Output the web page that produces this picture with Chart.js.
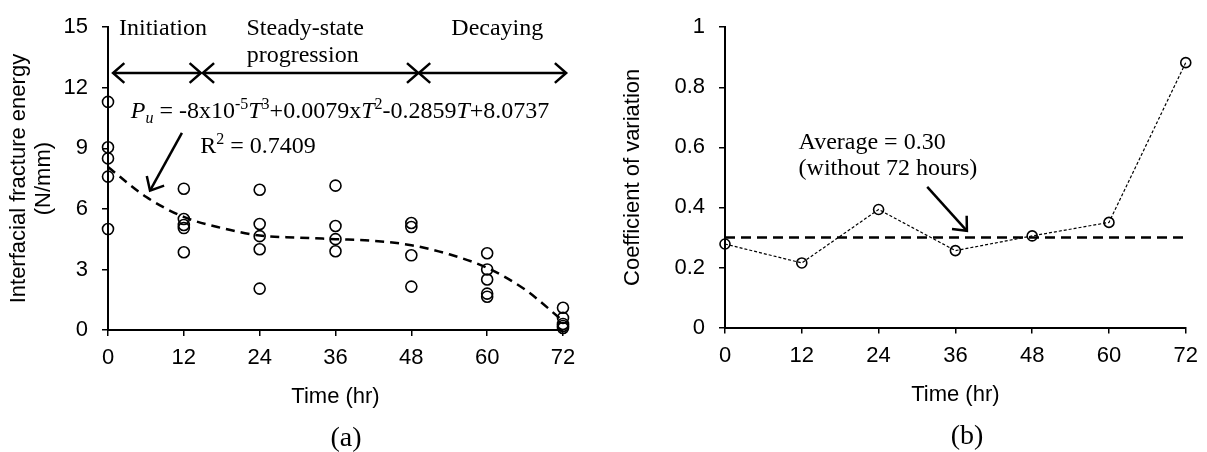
<!DOCTYPE html>
<html>
<head>
<meta charset="utf-8">
<script src="https://cdn.jsdelivr.net/npm/chart.js@4.4.1/dist/chart.umd.min.js"></script>
<style>
html, body { margin: 0; padding: 0; background: #fff; }
#wrap { position: relative; width: 1207px; height: 452px; }
#leftChart { position: absolute; left: 0; top: 0; }
#rightChart { position: absolute; left: 600px; top: 0; }
</style>
</head>
<body>
<div id="wrap">
  <canvas id="leftChart" width="600" height="452"></canvas>
  <canvas id="rightChart" width="607" height="452"></canvas>
</div>
<script>
// time axis (hours)
const hours = [0, 12, 24, 36, 48, 60, 72];
const hourTicks = [0, 12, 24, 36, 48, 60, 72];

// (a) interfacial fracture energy, N/mm, per specimen
const energy0h = [11.3, 9.05, 8.5, 7.6, 5.0];
const energy12h = [7.0, 5.5, 5.2, 5.05, 3.85];
const energy24h = [6.95, 5.25, 4.65, 4.0, 2.05];
const energy36h = [7.15, 5.15, 4.5, 3.9];
const energy48h = [5.3, 5.1, 3.7, 2.15];
const energy60h = [3.8, 3.0, 2.5, 1.8, 1.65];
const energy72h = [1.1, 0.6, 0.3, 0.2, 0.1];

// (a) cubic trend line
const trendHours = [0, 6, 12, 18, 24, 30, 36, 42, 48, 54, 60, 66, 72];
const trendEnergy = [8.07, 6.6, 5.6, 5.05, 4.68, 4.58, 4.5, 4.42, 4.2, 3.75, 3.08, 2.0, 0.45];

// (b) coefficient of variation
const cov = [0.278, 0.215, 0.393, 0.256, 0.305, 0.35, 0.882];
const avgHours = [0, 72];
const avgCov = 0.30;

const SANS = '"Liberation Sans", Arial, sans-serif';
const SERIF = '"Liberation Serif", "Times New Roman", serif';

Chart.defaults.font.family = SANS;
Chart.defaults.font.size = 22;
Chart.defaults.color = '#000';

const energyByHour = [energy0h, energy12h, energy24h, energy36h, energy48h, energy60h, energy72h];
const energyPoints = hours.flatMap((h, i) => energyByHour[i].map(v => ({ x: h, y: v })));
const trendPoints = trendHours.map((h, i) => ({ x: h, y: trendEnergy[i] }));
const covPoints = hours.map((h, i) => ({ x: h, y: cov[i] }));
const avgPoints = avgHours.map(h => ({ x: h, y: avgCov }));

function arrowHead(ctx, fx, fy, tx, ty, len, ang) {
  const a = Math.atan2(ty - fy, tx - fx);
  ctx.beginPath();
  ctx.moveTo(tx - len * Math.cos(a - ang), ty - len * Math.sin(a - ang));
  ctx.lineTo(tx, ty);
  ctx.lineTo(tx - len * Math.cos(a + ang), ty - len * Math.sin(a + ang));
  ctx.stroke();
}

function arrow(ctx, p1, p2, both) {
  ctx.beginPath();
  ctx.moveTo(p1[0], p1[1]);
  ctx.lineTo(p2[0], p2[1]);
  ctx.stroke();
  arrowHead(ctx, p1[0], p1[1], p2[0], p2[1], 15, 0.72);
  if (both) arrowHead(ctx, p2[0], p2[1], p1[0], p1[1], 15, 0.72);
}

function richText(ctx, parts, x, y, size) {
  let cx = x;
  parts.forEach(p => {
    const s = (p.sup || p.sub) ? Math.round(size * 0.65) : size;
    ctx.font = (p.it ? 'italic ' : '') + s + 'px ' + SERIF;
    const dy = p.sup ? -size * 0.38 : (p.sub ? size * 0.2 : 0);
    ctx.fillText(p.t, cx, y + dy);
    cx += ctx.measureText(p.t).width;
  });
}

function toPx(chart, x, y) {
  return [chart.scales.x.getPixelForValue(x), chart.scales.y.getPixelForValue(y)];
}

const leftNotes = {
  id: 'leftNotes',
  afterDraw(chart) {
    const ctx = chart.ctx;
    ctx.save();
    ctx.fillStyle = '#000';
    ctx.strokeStyle = '#000';
    ctx.lineWidth = 2.5;
    ctx.lineCap = 'butt';
    ctx.setLineDash([]);

    // phase labels
    ctx.font = '24px ' + SERIF;
    ctx.textAlign = 'center';
    ctx.textBaseline = 'alphabetic';
    const lbl = (t, x, y) => { const p = toPx(chart, x, y); ctx.fillText(t, p[0], p[1]); };
    lbl('Initiation', 8.7, 14.6);
    lbl('Steady-state', 31.2, 14.6);
    lbl('progression', 30.8, 13.3);
    lbl('Decaying', 61.6, 14.6);

    // phase arrows
    arrow(ctx, toPx(chart, 0.8, 12.73), toPx(chart, 14.7, 12.73), true);
    arrow(ctx, toPx(chart, 15.0, 12.73), toPx(chart, 49.1, 12.73), true);
    arrow(ctx, toPx(chart, 49.2, 12.73), toPx(chart, 72.5, 12.73), true);

    // equation
    ctx.textAlign = 'left';
    const eq = toPx(chart, 3.6, 10.5);
    richText(ctx, [
      { t: 'P', it: 1 }, { t: 'u', it: 1, sub: 1 }, { t: ' = -8x10' }, { t: '-5', sup: 1 },
      { t: 'T', it: 1 }, { t: '3', sup: 1 }, { t: '+0.0079x' }, { t: 'T', it: 1 }, { t: '2', sup: 1 },
      { t: '-0.2859' }, { t: 'T', it: 1 }, { t: '+8.0737' }
    ], eq[0], eq[1], 24);
    const r2 = toPx(chart, 14.6, 8.75);
    richText(ctx, [{ t: 'R' }, { t: '2', sup: 1 }, { t: ' = 0.7409' }], r2[0], r2[1], 24);

    // pointer to trend line
    arrow(ctx, toPx(chart, 11.7, 9.77), toPx(chart, 6.65, 6.9), false);

    // panel label
    ctx.font = '28px ' + SERIF;
    ctx.textAlign = 'center';
    ctx.textBaseline = 'middle';
    ctx.fillText('(a)', 346, 439);
    ctx.restore();
  }
};

const rightNotes = {
  id: 'rightNotes',
  afterDraw(chart) {
    const ctx = chart.ctx;
    ctx.save();
    ctx.fillStyle = '#000';
    ctx.strokeStyle = '#000';
    ctx.lineWidth = 2.5;
    ctx.setLineDash([]);
    ctx.font = '24px ' + SERIF;
    ctx.textAlign = 'left';
    ctx.textBaseline = 'alphabetic';
    let p = toPx(chart, 11.5, 0.596);
    ctx.fillText('Average = 0.30', p[0], p[1]);
    p = toPx(chart, 11.5, 0.509);
    ctx.fillText('(without 72 hours)', p[0], p[1]);

    arrow(ctx, toPx(chart, 31.6, 0.468), toPx(chart, 37.8, 0.322), false);

    ctx.font = '28px ' + SERIF;
    ctx.textAlign = 'center';
    ctx.textBaseline = 'middle';
    ctx.fillText('(b)', 367, 437);
    ctx.restore();
  }
};

function axisX(height, titlePad) {
  return {
    type: 'linear', min: 0, max: 72,
    afterFit: s => { s.height = height; },
    afterBuildTicks: s => { s.ticks = hourTicks.map(v => ({ value: v })); },
    grid: { drawOnChartArea: false, drawTicks: true, tickLength: 6, color: '#000', lineWidth: 1.5 },
    border: { display: true, color: '#000', width: 2 },
    ticks: { padding: 9, color: '#000', font: { size: 22 } },
    title: { display: true, text: 'Time (hr)', color: '#000', font: { size: 22, lineHeight: 1.2 }, padding: { top: 0, bottom: titlePad } }
  };
}

function axisY(width, min, max, step, title, titlePad) {
  return {
    type: 'linear', min: min, max: max,
    afterFit: s => { s.width = width; },
    grid: { drawOnChartArea: false, drawTicks: true, tickLength: 6, color: '#000', lineWidth: 1.5 },
    border: { display: true, color: '#000', width: 2 },
    ticks: { stepSize: step, padding: 14, color: '#000', font: { size: 22 }, callback: v => String(+v.toFixed(1)) },
    title: { display: true, text: title, color: '#000', font: { size: 22, lineHeight: 1.14 }, padding: { top: titlePad, bottom: 0 } }
  };
}

new Chart(document.getElementById('leftChart'), {
  type: 'scatter',
  data: {
    datasets: [
      {
        data: trendPoints, showLine: true, cubicInterpolationMode: 'monotone',
        borderColor: '#000', borderWidth: 2.5, borderDash: [9, 6], pointRadius: 0, clip: false
      },
      {
        data: energyPoints, showLine: false, pointStyle: 'circle', pointRadius: 5.5,
        pointBorderColor: '#000', pointBackgroundColor: 'rgba(0,0,0,0)', pointBorderWidth: 1.6, clip: false
      }
    ]
  },
  options: {
    responsive: false, animation: false, devicePixelRatio: 1,
    layout: { padding: { left: 0, top: 26, right: 37, bottom: 0 } },
    plugins: { legend: { display: false }, tooltip: { enabled: false } },
    scales: {
      x: axisX(122, 42),
      y: axisY(108, 0, 15, 3, ['Interfacial fracture energy', '(N/mm)'], 6.5)
    }
  },
  plugins: [leftNotes]
});

new Chart(document.getElementById('rightChart'), {
  type: 'scatter',
  data: {
    datasets: [
      {
        data: avgPoints, showLine: true, borderColor: '#000', borderWidth: 2.5,
        borderDash: [10, 6], pointRadius: 0, clip: false
      },
      {
        data: covPoints, showLine: true, borderColor: '#000', borderWidth: 1.2, borderDash: [3, 2],
        pointStyle: 'circle', pointRadius: 5, pointBorderColor: '#000',
        pointBackgroundColor: 'rgba(0,0,0,0)', pointBorderWidth: 1.6, clip: false
      }
    ]
  },
  options: {
    responsive: false, animation: false, devicePixelRatio: 1,
    layout: { padding: { left: 0, top: 18.5, right: 19, bottom: 0 } },
    plugins: { legend: { display: false }, tooltip: { enabled: false } },
    scales: {
      x: axisX(124.5, 44),
      y: axisY(125, 0, 1, 0.2, 'Coefficient of variation', 20.5)
    }
  },
  plugins: [rightNotes]
});
</script>
</body>
</html>
